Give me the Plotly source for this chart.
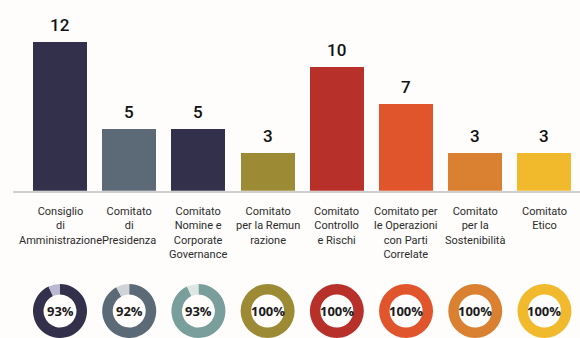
import plotly.graph_objects as go

# Board and committee data
categories = [
    "Consiglio<br>di<br>Amministrazione",
    "Comitato<br>di<br>Presidenza",
    "Comitato<br>Nomine e<br>Corporate<br>Governance",
    "Comitato<br>per la Remun<br>razione",
    "Comitato<br>Controllo<br>e Rischi",
    "Comitato per<br>le Operazioni<br>con Parti<br>Correlate",
    "Comitato<br>per la<br>Sostenibilità",
    "Comitato<br>Etico",
]
meetings = [12, 5, 5, 3, 10, 7, 3, 3]
attendance = [93, 92, 93, 100, 100, 100, 100, 100]

bar_colors = ["#33304b", "#5c6a77", "#33304b", "#9c8a35",
              "#b8302a", "#e0552c", "#d98031", "#f1b92c"]
ring_colors = ["#33304b", "#5c6a77", "#7a9e9b", "#9c8a35",
               "#b8302a", "#e0552c", "#d98031", "#f1b92c"]
rest_colors = ["#b9b8d2", "#d0d3d7", "#dce6e3", "#e9e4cc",
               "#f0d0ce", "#f8d6ca", "#f5dfc9", "#fcedc8"]

W, H = 580, 338
LABEL_FONT = "Roboto, sans-serif"

xs = list(range(len(meetings)))
fig = go.Figure()
fig.add_trace(go.Bar(
    x=xs, y=meetings, marker=dict(color=bar_colors, line=dict(width=0)),
    width=0.78, hoverinfo="skip", showlegend=False,
))

# value labels above bars
for i, v in enumerate(meetings):
    fig.add_annotation(x=i, y=v, xref="x", yref="y", text=str(v),
                       showarrow=False, yanchor="middle", yshift=17,
                       font=dict(family=LABEL_FONT, size=17, color="#111111", weight=500))

# category labels under the baseline
for i, c in enumerate(categories):
    fig.add_annotation(x=i, y=0, xref="x", yref="y", text=c,
                       showarrow=False, yanchor="top", yshift=-12,
                       align="center",
                       font=dict(family=LABEL_FONT, size=11, color="#2b2b2b"))

# attendance donuts below each bar, with the percentage in the middle
pitch = 69.21
x0_px = 60.0
r_px = 27.0
for i, p in enumerate(attendance):
    cx = x0_px + i * pitch
    fig.add_trace(go.Pie(
        values=[p, 100 - p], sort=False, direction="clockwise", rotation=0,
        hole=0.61, textinfo="none", hoverinfo="skip", showlegend=False,
        marker=dict(colors=[ring_colors[i], rest_colors[i]], line=dict(width=0)),
        domain=dict(x=[(cx - r_px) / W, (cx + r_px) / W], y=[0, 2 * r_px / H]),
    ))
    fig.add_annotation(x=cx / W, y=r_px / H, xref="paper", yref="paper",
                       text=f"{p}%", showarrow=False,
                       xanchor="center", yanchor="middle",
                       font=dict(family="Open Sans, sans-serif", size=13,
                                 color="#1a1a1a", weight=700))

left_px = 13.0
fig.update_layout(
    width=W, height=H, margin=dict(l=0, r=0, t=0, b=0),
    paper_bgcolor="#fefdfc", plot_bgcolor="#fefdfc",
    bargap=0,
    xaxis=dict(domain=[left_px / W, 1],
               range=[(left_px - x0_px) / pitch, (W - x0_px) / pitch],
               showgrid=False, zeroline=False, showticklabels=False,
               showline=True, linecolor="#cfcfcf", linewidth=2, ticks=""),
    yaxis=dict(domain=[1 - 190.7 / H, 1], range=[0, 190.7 / 12.42],
               showgrid=False, zeroline=False, showticklabels=False,
               showline=False, ticks=""),
)

fig.write_html("out.html")
